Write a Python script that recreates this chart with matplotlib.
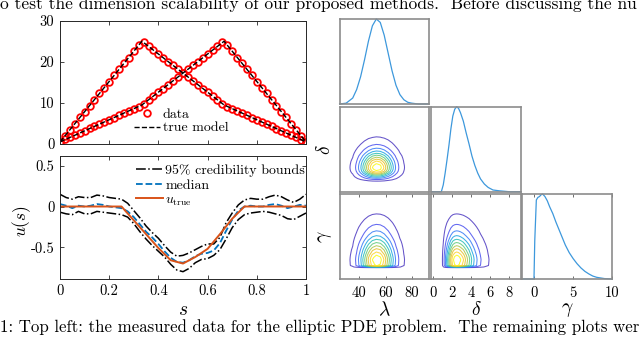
import numpy as np
import matplotlib
matplotlib.use("Agg")
import matplotlib.pyplot as plt
from matplotlib.colors import LinearSegmentedColormap

# ---- top left: measured data (two sources) ----
s_data = np.linspace(0, 1, 51)
data_1 = [0.6, 2.0, 3.4, 4.9, 6.5, 7.9, 9.3, 10.8, 12.3, 13.6, 15.2, 16.7, 18.2,
          19.6, 21.0, 22.6, 24.0, 24.8, 23.8, 22.9, 21.9, 21.0, 20.0, 19.1, 18.2,
          17.2, 16.3, 15.4, 14.4, 13.5, 12.6, 11.7, 10.7, 9.8, 9.1, 8.6, 8.1, 7.5,
          7.0, 6.4, 5.9, 5.4, 4.8, 4.3, 3.7, 3.2, 2.7, 2.1, 1.6, 1.0, 0.5]
data_2 = [0.5, 1.1, 1.6, 2.2, 2.7, 3.2, 3.8, 4.3, 4.8, 5.4, 5.9, 6.4, 7.0, 7.5,
          8.1, 8.6, 9.1, 9.8, 10.7, 11.7, 12.6, 13.5, 14.4, 15.4, 16.3, 17.2,
          18.2, 19.1, 20.0, 21.0, 21.9, 22.9, 23.8, 24.8, 24.0, 22.6, 21.0, 19.6,
          18.2, 16.7, 15.2, 13.6, 12.3, 10.8, 9.3, 7.9, 6.5, 4.9, 3.4, 2.0, 0.6]
s_model = [0.0, 0.333, 0.667, 1.0]
model_1 = [0.5, 25.0, 9.5, 0.5]
model_2 = [0.5, 9.5, 25.0, 0.5]

# ---- bottom left: posterior of u(s) ----
s_post = np.linspace(0, 1, 41)
upper = [0.15, 0.11, 0.09, 0.12, 0.11, 0.11, 0.14, 0.13, 0.11, 0.10, 0.09,
         0.04, -0.05, -0.14, -0.24, -0.32, -0.39, -0.48, -0.56, -0.61, -0.60,
         -0.57, -0.53, -0.49, -0.46, -0.46, -0.38, -0.20, -0.08, 0.02, 0.08,
         0.10, 0.09, 0.09, 0.12, 0.14, 0.12, 0.08, 0.05, 0.09, 0.15]
lower = [-0.07, -0.09, -0.10, -0.06, -0.09, -0.09, -0.06, -0.07, -0.08, -0.09,
         -0.10, -0.13, -0.21, -0.31, -0.40, -0.48, -0.55, -0.62, -0.71, -0.78,
         -0.80, -0.76, -0.69, -0.65, -0.64, -0.60, -0.53, -0.40, -0.26, -0.16,
         -0.10, -0.08, -0.07, -0.06, -0.07, -0.09, -0.11, -0.15, -0.16, -0.12,
         -0.08]
median = [0.03, 0.01, -0.02, 0.01, 0.00, 0.01, 0.03, 0.02, 0.00, -0.01, -0.02,
          -0.06, -0.13, -0.22, -0.31, -0.38, -0.46, -0.55, -0.63, -0.68, -0.69,
          -0.66, -0.61, -0.58, -0.57, -0.54, -0.45, -0.30, -0.16, -0.05, 0.00,
          0.01, 0.00, 0.00, 0.02, 0.03, 0.01, -0.02, 0.00, 0.02, 0.01]
s_true = [0.0, 0.25, 0.30, 0.35, 0.40, 0.45, 0.50, 0.55, 0.60, 0.65, 0.70, 0.75, 1.0]
u_true = [0.0, 0.0, -0.17, -0.34, -0.51, -0.66, -0.70, -0.62, -0.52, -0.34, -0.15, 0.0, 0.0]

# ---- right: marginal densities (relative height) ----
lam_grid = [25, 30, 35, 38, 41, 44, 47, 50, 53, 56, 59, 62, 65, 68, 71, 74, 77, 80, 85, 93]
lam_dens = [0.0, 0.01, 0.07, 0.17, 0.32, 0.52, 0.74, 0.92, 1.0, 0.96, 0.81, 0.60,
            0.39, 0.22, 0.11, 0.05, 0.02, 0.01, 0.0, 0.0]
del_grid = [-0.1, 0.5, 0.9, 1.1, 1.3, 1.5, 1.7, 1.9, 2.1, 2.3, 2.5, 2.7, 2.9, 3.2,
            3.5, 3.8, 4.1, 4.4, 4.7, 5.0, 5.4, 5.8, 6.3, 7.0, 8.0, 9.2]
del_dens = [0.0, 0.0, 0.0, 0.08, 0.22, 0.38, 0.55, 0.74, 0.89, 0.97, 1.0, 0.98,
            0.93, 0.83, 0.69, 0.56, 0.42, 0.31, 0.22, 0.15, 0.09, 0.05, 0.02,
            0.01, 0.0, 0.0]
gam_grid = [-1.5, -0.5, 0.0, 0.1, 0.3, 0.5, 0.7, 0.9, 1.1, 1.4, 1.7, 2.0, 2.4,
            2.8, 3.2, 3.6, 4.0, 4.5, 5.0, 5.5, 6.0, 6.5, 7.0, 7.5, 8.0, 9.0, 10.0]
gam_dens = [0.0, 0.0, 0.0, 0.45, 0.93, 0.96, 0.97, 0.99, 1.0, 0.97, 0.92, 0.85,
            0.77, 0.67, 0.58, 0.49, 0.40, 0.31, 0.24, 0.18, 0.13, 0.09, 0.06,
            0.035, 0.02, 0.005, 0.0]
param_names = [r"$\lambda$", r"$\delta$", r"$\gamma$"]

plt.rcParams["font.family"] = "cmr10"
plt.rcParams["mathtext.fontset"] = "cm"
plt.rcParams["axes.unicode_minus"] = False
plt.rcParams["axes.formatter.use_mathtext"] = True

W, H = 640, 339
fig = plt.figure(figsize=(W / 100, H / 100), dpi=100)


def add_px_axes(x0, x1, y0, y1):
    return fig.add_axes([x0 / W, 1 - y1 / H, (x1 - x0) / W, (y1 - y0) / H])


def style_left(ax):
    for sp in ax.spines.values():
        sp.set_color("#262626")
        sp.set_linewidth(0.7)
    ax.tick_params(direction="in", top=True, right=True, length=3, width=0.6,
                   color="#262626", labelsize=10.5, pad=4)


# top-left panel
ax1 = add_px_axes(60, 306, 20.7, 144)
ax1.plot(s_data, data_1, "o", mfc="none", mec="red", ms=4.8, mew=1.3, label="data")
ax1.plot(s_data, data_2, "o", mfc="none", mec="red", ms=4.8, mew=1.3)
ax1.plot(s_model, model_1, "--", color="k", lw=1.0, label="true model")
ax1.plot(s_model, model_2, "--", color="k", lw=1.0)
ax1.set_xlim(0, 1)
ax1.set_ylim(0, 30)
ax1.set_xticks([0, 0.2, 0.4, 0.6, 0.8, 1.0], [])
ax1.set_yticks([0, 10, 20, 30], ["0", "10", "20", "30"])
style_left(ax1)
ax1.legend(loc="upper left", bbox_to_anchor=(0.30, 0.29), frameon=False,
           fontsize=10, handlelength=1.9, handletextpad=0.2, labelspacing=0.05,
           borderaxespad=0, borderpad=0)

# bottom-left panel
ax2 = add_px_axes(60, 306, 156, 279)
ax2.plot(s_post, upper, "-.", color="k", lw=1.1, label="95% credibility bounds")
ax2.plot(s_post, lower, "-.", color="k", lw=1.1)
ax2.plot(s_post, median, "--", color="#0072BD", lw=1.3, label="median")
ax2.plot(s_true, u_true, "-", color="#D95319", lw=1.4, label=r"$u_{\rm true}$")
ax2.set_xlim(0, 1)
ax2.set_ylim(-0.89, 0.62)
ax2.set_xticks([0, 0.2, 0.4, 0.6, 0.8, 1.0], ["0", "0.2", "0.4", "0.6", "0.8", "1"])
ax2.set_yticks([-0.5, 0, 0.5], ["-0.5", "0", "0.5"])
style_left(ax2)
ax2.set_xlabel(r"$s$", fontsize=14, labelpad=2)
ax2.set_ylabel(r"$u(s)$", fontsize=12.5)
ax2.yaxis.set_label_coords(-0.11, 0.47)
ax2.legend(loc="upper left", bbox_to_anchor=(0.31, 0.935), frameon=False,
           fontsize=10, handlelength=1.9, handletextpad=0.2, labelspacing=0.15,
           borderaxespad=0, borderpad=0)

# corner plot
parula = LinearSegmentedColormap.from_list(
    "parula", ["#4a36c0", "#4852f4", "#2e87f7", "#12b1d6", "#37c897",
               "#91cb58", "#ddbd29", "#fccf30", "#f9fa0e"])
grids = [np.array(lam_grid), np.array(del_grid), np.array(gam_grid)]
dens = [np.array(lam_dens), np.array(del_dens), np.array(gam_dens)]
col_px = [(340, 429.3), (431.3, 520.7), (522, 612.3)]
row_px = [(19, 104), (106.7, 191.7), (194, 279)]
lims = [(25.3, 93.4), (-0.15, 9.2), (-1.53, 10)]
xticks = [[40, 60, 80], [0, 2, 4, 6, 8], [0, 5, 10]]
levels = np.linspace(0.045, 0.92, 10)

for i in range(3):
    for j in range(i + 1):
        ax = add_px_axes(col_px[j][0], col_px[j][1], row_px[i][0], row_px[i][1])
        if i == j:
            ax.plot(grids[j], dens[j], color="#3d98dc", lw=0.9, clip_on=False)
            ax.set_ylim(0, 1)
        else:
            z = np.outer(dens[i], dens[j])
            ax.contour(grids[j], grids[i], z, levels=levels, cmap=parula,
                       linewidths=0.75, alpha=0.85)
            ax.set_ylim(lims[i])
        ax.set_xlim(lims[j])
        for sp in ax.spines.values():
            sp.set_color("#8c8c8c")
            sp.set_linewidth(1.2)
        ax.set_yticks([])
        if i == 2:
            ax.set_xticks(xticks[j], [str(t) for t in xticks[j]])
            ax.tick_params(axis="x", direction="in", top=True, length=2.5,
                           width=0.6, color="#555555", labelsize=10.5, pad=5)
            ax.set_xlabel(param_names[j], fontsize=14, labelpad=1)
        else:
            ax.set_xticks([])
        if j == 0 and i > 0:
            ax.set_ylabel(param_names[i], fontsize=14, labelpad=4)

# surrounding page text
fig.text(0.0, 1 - 9 / H,
         "o test the dimension scalability of our proposed methods.  Before discussing the nu",
         fontsize=12.6, ha="left", va="baseline")
fig.text(0.0, 1 - 332 / H,
         "1: Top left: the measured data for the elliptic PDE problem.  The remaining plots wer",
         fontsize=12.15, ha="left", va="baseline")

fig.savefig("out.png", dpi=100)
